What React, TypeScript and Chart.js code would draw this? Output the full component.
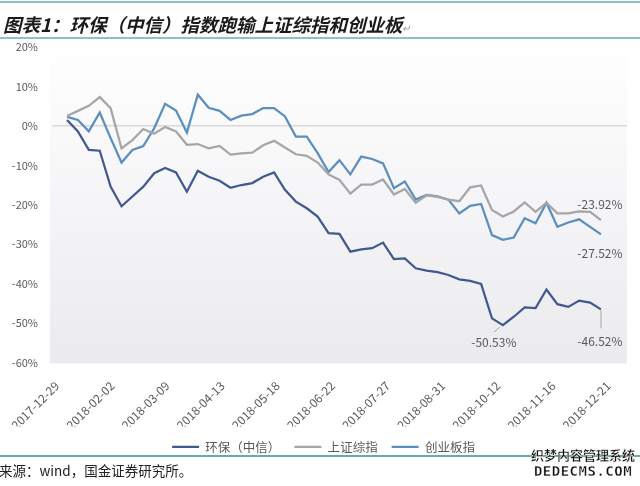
import React, { useEffect, useRef } from 'react';
import { Chart, registerables } from 'chart.js';

Chart.register(...registerables);

const seriesNames = ['环保（中信）', '上证综指', '创业板指'];

const envProtection = [
  1.5, -1.4, -6.1, -6.3, -15.4, -20.4, -17.9, -15.4, -12.0, -10.7,
  -11.8, -16.7, -11.4, -12.9, -13.9, -15.7, -15.0, -14.5, -12.9, -11.8,
  -16.2, -19.2, -20.9, -23.0, -27.2, -27.4, -31.9, -31.3, -31.0, -29.6,
  -33.8, -33.6, -36.1, -36.7, -37.1, -37.8, -38.9, -39.3, -40.1, -48.8,
  -50.53, -48.4, -46.0, -46.2, -41.5, -45.2, -45.9, -44.3, -44.8, -46.52,
];

const shanghaiComposite = [
  2.5, 3.8, 5.1, 7.3, 4.5, -5.7, -3.6, -0.8, -2.0, -0.3,
  -1.4, -4.8, -4.6, -5.7, -5.1, -7.3, -7.0, -6.8, -4.9, -3.8,
  -5.5, -7.2, -7.6, -9.3, -12.3, -13.7, -17.2, -14.9, -14.9, -13.6,
  -17.4, -16.0, -19.5, -17.6, -18.0, -18.7, -19.1, -15.6, -15.1, -21.3,
  -23.0, -21.7, -19.4, -21.8, -19.5, -22.2, -22.2, -21.7, -21.8, -23.92,
];

const chinext = [
  2.3, 1.5, -1.4, 3.4, -3.1, -9.3, -6.1, -5.1, -0.6, 5.6,
  3.9, -1.7, 7.9, 4.6, 3.8, 1.5, 2.6, 3.0, 4.5, 4.5,
  2.4, -2.7, -2.7, -6.9, -11.7, -8.7, -12.3, -7.8, -8.4, -9.5,
  -15.8, -14.1, -18.7, -17.5, -17.9, -18.7, -22.2, -20.3, -19.8, -27.7,
  -28.9, -28.3, -23.4, -24.7, -19.5, -25.6, -24.5, -23.7, -25.6, -27.52,
];

const xTickLabels = [
  '2017-12-29', '2018-02-02', '2018-03-09', '2018-04-13', '2018-05-18', '2018-06-22',
  '2018-07-27', '2018-08-31', '2018-10-12', '2018-11-16', '2018-12-21',
];

const yMin = -60;
const yMax = 20;
const yStep = 10;

const colors = ['#42598f', '#a6a6a6', '#5b8fbd'];
const TEXT = '#595959';
const FONT = '"Noto Sans CJK SC", "Noto Sans", sans-serif';

export default function App() {
  const ref = useRef<HTMLCanvasElement>(null);

  useEffect(() => {
    const canvas = ref.current;
    if (!canvas) return;
    const last = envProtection.length - 1;
    const minIdx = envProtection.indexOf(Math.min(...envProtection));

    const bgPlugin = {
      id: 'plotBg',
      beforeDraw(chart: any) {
        if (chart.legend) chart.legend.left = 20;
        const { ctx, chartArea: a } = chart;
        const g = ctx.createLinearGradient(0, a.top - 8, 0, a.bottom);
        g.addColorStop(0, '#ffffff');
        g.addColorStop(1, '#ebebef');
        ctx.save();
        ctx.fillStyle = g;
        ctx.fillRect(a.left - 2, a.top - 8, a.right - a.left + 2, a.bottom - a.top + 9);
        ctx.restore();
      },
    };

    const annotations = [
      { ds: 1, idx: last, dx: -1, dy: -16, leader: null as null | number[][] },
      { ds: 2, idx: last, dx: -1, dy: 19, leader: null },
      { ds: 0, idx: minIdx, dx: -9, dy: 17, leader: [[-3, 2], [-9, 7]] },
      { ds: 0, idx: last, dx: -1, dy: 32, leader: [[0, 1], [0, 19]] },
    ];

    const labelPlugin = {
      id: 'valueLabels',
      afterDatasetsDraw(chart: any) {
        const { ctx } = chart;
        ctx.save();
        annotations.forEach((a) => {
          const meta = chart.getDatasetMeta(a.ds);
          const pt = meta.data[a.idx];
          const value = chart.data.datasets[a.ds].data[a.idx].y;
          if (a.leader) {
            ctx.strokeStyle = '#a6a6a6';
            ctx.lineWidth = 1;
            ctx.beginPath();
            ctx.moveTo(pt.x + a.leader[0][0], pt.y + a.leader[0][1]);
            ctx.lineTo(pt.x + a.leader[1][0], pt.y + a.leader[1][1]);
            ctx.stroke();
          }
          ctx.fillStyle = TEXT;
          ctx.font = `12px ${FONT}`;
          ctx.textAlign = 'center';
          ctx.textBaseline = 'middle';
          ctx.fillText(value.toFixed(2) + '%', pt.x + a.dx, pt.y + a.dy);
        });
        ctx.restore();
      },
    };

    const series = [envProtection, shanghaiComposite, chinext];
    const chart = new Chart(canvas, {
      type: 'line',
      data: {
        datasets: series.map((s, k) => ({
          label: seriesNames[k],
          data: s.map((v, i) => ({ x: i, y: v })),
          borderColor: colors[k],
          backgroundColor: colors[k],
          borderWidth: 2.25,
          pointRadius: 0,
          tension: 0,
          fill: false,
        })),
      },
      options: {
        animation: false,
        responsive: false,
        layout: { padding: { top: 47, right: 13, bottom: 23, left: 0 } },
        plugins: {
          tooltip: { enabled: false },
          legend: {
            position: 'bottom',
            labels: {
              usePointStyle: true,
              pointStyle: 'line',
              pointStyleWidth: 27,
              padding: 14,
              color: TEXT,
              font: { size: 12.5, family: FONT },
            },
          },
        },
        scales: {
          x: {
            type: 'linear',
            min: -1.38,
            max: last + 2.39,
            afterBuildTicks: (s: any) => {
              s.ticks = xTickLabels.map((_, k) => ({ value: -0.92 + k * 5.06 }));
            },
            afterFit: (s: any) => {
              s.height = 64;
            },
            grid: { display: false },
            border: { display: false },
            ticks: {
              autoSkip: false,
              minRotation: 45,
              maxRotation: 45,
              padding: 8,
              color: TEXT,
              font: { size: 12, family: FONT },
              callback: (_v: any, i: number) => xTickLabels[i],
            },
          },
          y: {
            min: yMin,
            max: yMax,
            afterFit: (s: any) => {
              s.width = 52;
            },
            border: { display: false },
            grid: {
              drawTicks: false,
              lineWidth: 1.5,
              color: (c: any) => (c.tick && c.tick.value === 0 ? '#d9d9d9' : 'rgba(0,0,0,0)'),
            },
            ticks: {
              stepSize: yStep,
              padding: 14,
              color: TEXT,
              font: { size: 11, family: FONT },
              callback: (v: any) => v + '%',
            },
          },
        },
      },
      plugins: [bgPlugin, labelPlugin],
    } as any);
    return () => chart.destroy();
  }, []);

  return (
    <div style={{ position: 'fixed', left: 0, top: 0, width: 640, height: 486, background: '#fff', overflow: 'hidden' }}>
      <canvas ref={ref} width={640} height={486} style={{ position: 'absolute', left: 0, top: 0, width: 640, height: 486 }} />
      <div style={{ position: 'absolute', left: 0, top: 1, width: 640, height: 2, background: '#8cc3c3' }} />
      <div
        style={{
          position: 'absolute', left: 3, top: 13, fontFamily: FONT, fontWeight: 'bold', fontStyle: 'italic',
          fontSize: 18.5, lineHeight: '22px', color: '#1a1a1a', whiteSpace: 'nowrap',
        }}
      >
        图表1：环保（中信）指数跑输上证综指和创业板<span style={{ fontSize: 10, color: '#999', fontWeight: 'normal' }}>↵</span>
      </div>
      <div style={{ position: 'absolute', left: 0, top: 37, width: 640, height: 2, background: '#8cc3c3' }} />
      <div style={{ position: 'absolute', left: 0, top: 455, width: 640, height: 2, background: '#6aa9a9' }} />
      <div
        style={{
          position: 'absolute', left: -1, top: 461, fontFamily: FONT, fontSize: 13.5, lineHeight: '18px',
          color: '#222', whiteSpace: 'nowrap',
        }}
      >
        来源：wind，国金证券研究所。
      </div>
      <div
        style={{
          position: 'absolute', left: 529, top: 446, width: 108, textAlign: 'center', fontFamily: FONT,
          fontWeight: 'bold', fontSize: 13, lineHeight: '17px', color: '#111', WebkitTextStroke: '0.3px #fff', whiteSpace: 'nowrap',
        }}
      >
        织梦内容管理系统
        <div style={{ fontFamily: '"DejaVu Sans Mono", monospace', fontSize: 14, letterSpacing: 0.5 }}>DEDECMS.COM</div>
      </div>
    </div>
  );
}
